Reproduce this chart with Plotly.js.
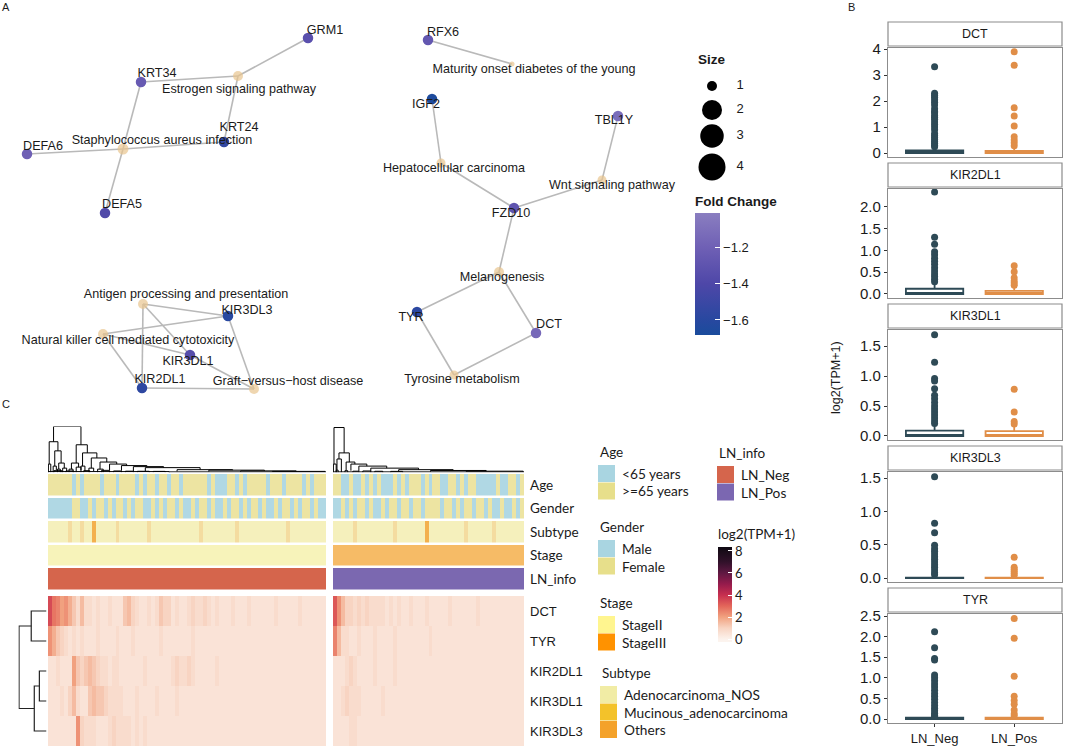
<!DOCTYPE html>
<html><head><meta charset="utf-8">
<script src="https://cdn.plot.ly/plotly-3.0.1.min.js"></script>
<style>html,body{margin:0;padding:0;background:#fff}#chart{width:1065px;height:750px}</style>
</head><body><div id="chart"></div>
<script>
const W=1065,H=750;
const px=v=>v/W, py=v=>1-v/H;

// ================= Panel A : network data =================
const geneNames=['GRM1','KRT34','KRT24','DEFA6','DEFA5','KIR3DL3','KIR3DL1','KIR2DL1','RFX6','IGF2','TBL1Y','FZD10','TYR','DCT'];
const geneX=[308,141,224,27,105,228,190,142,428,432,618,514,417,536];
const geneY=[38,82,142,154,213,316,355,388,40,99,116,208,312,333];
const geneFoldChange=[-1.33,-1.25,-1.55,-1.2,-1.38,-1.6,-1.35,-1.57,-1.27,-1.66,-1.12,-1.3,-1.58,-1.15];
const geneLabelX=[325,157,239,43,122,247,188,160,443,426,614,511,411,549];
const geneLabelY=[31,74,128,147,205,311,362,380,33,105,121,214,318,325];
const pathwayNames=['Estrogen signaling pathway','Staphylococcus aureus infection','Antigen processing and presentation','Natural killer cell mediated cytotoxicity','Graft\u2212versus\u2212host disease','Maturity onset diabetes of the young','Hepatocellular carcinoma','Wnt signaling pathway','Melanogenesis','Tyrosine metabolism'];
const pathwayX=[238,123,143,103,254,512,441,602,499,454];
const pathwayY=[76,149,304,334,389,64,163,180,272,375];
const pathwayGeneCount=[3,4,3,3,3,1,2,2,3,2];
const pathwayLabelX=[239,162,186,128,288,534,454,612,502,462];
const pathwayLabelY=[90,141,295,341,382,70,169,186,278,380];
const edgePathway=[0,0,0,1,1,1,1,2,2,2,3,3,3,4,4,4,5,6,6,7,7,8,8,8,9,9];
const edgeGene=['GRM1','KRT34','KRT24','KRT34','DEFA6','DEFA5','KRT24','KIR3DL3','KIR2DL1','KIR3DL1','KIR3DL3','KIR2DL1','KIR3DL1','KIR3DL3','KIR2DL1','KIR3DL1','RFX6','IGF2','FZD10','TBL1Y','FZD10','FZD10','TYR','DCT','TYR','DCT'];
const sizeLegendValues=[1,2,3,4];
const fcTicks=[-1.6,-1.4,-1.2];

// ================= Panel B : box plot data =================
const bGenes=['DCT','KIR2DL1','KIR3DL1','KIR3DL3','TYR'];
const bGroups=['LN_Neg','LN_Pos'];
const dctOutNeg=[3.32,2.3,2.22,2.15,2.05,1.95,1.85,1.7,1.6,1.55,1.45,1.38,1.3,1.2,1.1,1.0,0.9,0.75,0.68,0.6,0.52,0.45,0.38,0.3,0.24];
const dctOutPos=[3.9,3.38,1.74,1.43,1.04,0.63,0.5,0.4,0.28];
const kir2dl1OutNeg=[2.34,1.3,1.14,0.97,0.9,0.82,0.75,0.68,0.6,0.53,0.46,0.4,0.34,0.28];
const kir2dl1OutPos=[0.65,0.51,0.37,0.3,0.25,0.2];
const kir3dl1OutNeg=[1.69,1.23,0.96,0.92,0.79,0.68,0.62,0.56,0.5,0.45,0.4,0.35,0.3,0.25,0.21];
const kir3dl1OutPos=[0.78,0.4,0.24,0.2];
const kir3dl3OutNeg=[1.52,0.82,0.68,0.49,0.44,0.4,0.36,0.32,0.28,0.24,0.2,0.16,0.12,0.08,0.05];
const kir3dl3OutPos=[0.31,0.16,0.13,0.1,0.07,0.04];
const tyrOutNeg=[2.12,1.73,1.47,1.43,1.07,1.0,0.93,0.85,0.78,0.7,0.62,0.55,0.48,0.4,0.33,0.26,0.2,0.14,0.09,0.06];
const tyrOutPos=[2.44,1.96,1.04,0.55,0.45,0.36,0.22,0.13,0.08];
const boxQ1Neg=[0,0,0,0,0], boxMedNeg=[0.02,0.02,0.01,0,0.005], boxQ3Neg=[0.1,0.12,0.09,0.006,0.03], boxUpNeg=[0.2,0.25,0.18,0.012,0.06];
const boxQ1Pos=[0,0,0,0,0], boxMedPos=[0.02,0.01,0.01,0,0.005], boxQ3Pos=[0.08,0.07,0.08,0.006,0.03], boxUpPos=[0.16,0.17,0.18,0.012,0.06];

// ================= Panel C : heatmap data =================
const hmGenes=['DCT','TYR','KIR2DL1','KIR3DL1','KIR3DL3'];
const annotNames=['Age','Gender','Subtype','Stage','LN_info'];
const nNeg=70, nPos=48;
// expression: one hex char per sample, value = char/4 (log2(TPM+1))
const dctNeg   ='eba8975363323223222564322323544232234334323222322232222223222223222222';
const tyrNeg   ='9754323232223222232223222222322222223222222222222222222222222222222222';
const kir2dl1Neg='2232228545654332332222223222222343343222223222222222222222222222222222';
const kir3dl1Neg='2223246322565543333222322223222232222222222222222222222222222222222222';
const kir3dl3Neg='2222222943332223433332323222222222222222222222222222222222222222222222';
const dctPos   ='d96443434333323232232223222223222222322222222222';
const tyrPos   ='a63322322232222322222222322222222222222222222222';
const kir2dl1Pos='222343222232222322222222222222222222222222222222';
const kir3dl1Pos='223433322222322222222222222222222222222222222222';
const kir3dl3Pos='222233222222222222222222222222222222222222222222';
// annotations: Age 0:<65 1:>=65 ; Gender 0:Male 1:Female ; Subtype 0:NOS 1:Mucinous 2:Others
const ageNeg    ='1111110101111011101111010110110110111111010001101011111011101111010111';
const genderNeg ='0000001100101101011010110010101101001011010010110101101001011010110100';
const subtypeNeg='0000010010020000010000000100000000000010000000010000000000001000000000';
const agePos    ='110010010101000101011101011001101011000001001101';
const genderPos ='001010110100101101101101111011010110110100100101';
const subtypePos='000001000000000100000002000000000100000010000000';
const blockStage=['StageII','StageIII'];
const blockLN=['LN_Neg','LN_Pos'];
// dendrograms: [xLeft, xRight, height, heightLeftChild, heightRightChild]
const dendroNeg=[[0.9,7.8,45,30,27],[-0.2,2.0,30,8,21],[-0.4,0.2,8,0,0],[1.2,2.8,21,6,9],[0.8,1.6,6,0,2],[2.2,3.6,9,3,4],[1.9,2.6,3,0,0],[3.2,4.2,4,0,1],
 [6.6,9.4,27,9,19],[5.4,7.2,9,3,5],[4.8,5.8,3,0,0],[6.6,7.8,5,0,2],[8.2,11.8,19,6,14],[7.8,8.8,6,0,1],[10.4,14.3,14,4,10],[9.8,11.0,4,0,1],
 [12.6,16.8,10,3,8],[12.0,13.4,3,0,0],[15.0,19.3,8,2,6.5],[18.0,24.4,6.5,1.5,5.5],[21.0,28.6,5.5,1.2,4.5],[24.0,37.8,4.5,1,2.5],[32.0,46.0,2.5,0.8,2],
 [40.0,54.0,2,0.6,1.3],[48.0,62.0,1.3,0.5,0.8],[56.0,69.3,0.8,0.3,0.3],[1,3,1.5,0,0],[4,6,1.2,0,0],[8.5,10,1.5,0,0],[13,15,1.8,0,0],[16,18,1.2,0,0],
 [19,21,1,0,0],[22,25,0.9,0,0],[26,29,0.8,0,0],[-0.4,30,0.6,0,0],[30,69.4,0.3,0,0]];
const dendroPos=[[-0.25,2.3,44,8,19],[-0.4,0.3,8,0,0],[1.0,3.6,19,13,10],[0.5,1.6,13,2,0],[0.3,0.8,2,0,0],[2.8,5.0,10,2,8],[4.0,8.0,8,1.5,6],
 [6.0,13.0,6,1.2,4],[9.0,21.0,4,1,2.5],[16.0,29.7,2.5,0.8,1.7],[24.0,38.0,1.7,0.6,1],[33.0,47.3,1,0.4,0.3],[2.5,3.2,1.5,0,0],[4.5,6,1,0,0],
 [7,9,1.2,0,0],[10,12,0.9,0,0],[14,17,0.8,0,0],[-0.4,47.4,0.3,0,0]];
const dendroRows=[[0,1,15,0,0],[2,3,7,0,0],[2.5,4,12,7,0],[0.5,3.25,27,15,12]];

// ================= helpers =================
function decode(str,n,fill){const a=[];for(let i=0;i<n;i++)a.push(i<str.length?str[i]:fill);return a;}
const idx=n=>Array.from({length:n},(_,i)=>i);
const txtFont={family:'Liberation Sans, Arial, sans-serif',color:'#1a1a1a'};
const latoFont='Lato, Liberation Sans, sans-serif';

const traces=[];
// ---- network edges
const ex=[],ey=[];
edgePathway.forEach((p,i)=>{const g=geneNames.indexOf(edgeGene[i]);ex.push(pathwayX[p],geneX[g],null);ey.push(pathwayY[p],geneY[g],null);});
traces.push({type:'scatter',mode:'lines',x:ex,y:ey,xaxis:'x',yaxis:'y',line:{color:'#b9b9b9',width:1.6},hoverinfo:'skip'});
const pathwayPx=[0,5,9,10,11];
traces.push({type:'scatter',mode:'markers',x:pathwayX,y:pathwayY,xaxis:'x',yaxis:'y',
  marker:{color:'#e8c48e',size:pathwayGeneCount.map(c=>pathwayPx[c]),line:{width:0}},hoverinfo:'skip'});
const fcMin=-1.683, fcMax=-1.01;
const fcScale=[[0,'#1a4c9c'],[0.123,'#2848a0'],[0.42,'#4e47a8'],[0.718,'#6f60b5'],[1,'#8a7ec0']];
traces.push({type:'scatter',mode:'markers',x:geneX,y:geneY,xaxis:'x',yaxis:'y',
  marker:{size:10.5,color:geneFoldChange,colorscale:fcScale,cmin:fcMin,cmax:fcMax,line:{width:0},showscale:true,
    colorbar:{x:px(695),xanchor:'left',y:py(193),yanchor:'top',len:142/H,lenmode:'fraction',thickness:25,thicknessmode:'pixels',
      outlinewidth:0,xpad:0,ypad:0,ticks:'inside',ticklen:5,tickcolor:'#ffffff',tickvals:fcTicks,
      tickfont:{size:13,color:'#1a1a1a',family:'Liberation Sans, Arial, sans-serif'},
      title:{text:'<b>Fold Change</b>',side:'top',font:{size:13.5,color:'#1a1a1a',family:'Liberation Sans, Arial, sans-serif'}}}},
  hoverinfo:'skip'});
traces.push({type:'scatter',mode:'text',x:geneLabelX.concat(pathwayLabelX),y:geneLabelY.concat(pathwayLabelY),xaxis:'x',yaxis:'y',
  text:geneNames.concat(pathwayNames),textposition:'middle center',textfont:Object.assign({size:12.6},txtFont),hoverinfo:'skip'});
// size legend
const sizeLegY=[86,110,136,167];
const sizeLegPx=[10,20,23.5,27];
traces.push({type:'scatter',mode:'markers',x:sizeLegendValues.map(()=>712),y:sizeLegY,xaxis:'x',yaxis:'y',
  marker:{color:'#000000',opacity:1,size:sizeLegendValues.map(s=>sizeLegPx[s-1]),line:{width:0}},hoverinfo:'skip'});
traces.push({type:'scatter',mode:'text',x:sizeLegendValues.map(()=>740),y:sizeLegY,xaxis:'x',yaxis:'y',
  text:sizeLegendValues.map(String),textposition:'middle center',textfont:Object.assign({size:13},txtFont),hoverinfo:'skip'});

// ---- Panel B
const outNeg=[dctOutNeg,kir2dl1OutNeg,kir3dl1OutNeg,kir3dl3OutNeg,tyrOutNeg];
const outPos=[dctOutPos,kir2dl1OutPos,kir3dl1OutPos,kir3dl3OutPos,tyrOutPos];
const negCol='#2e4a56', posCol='#e08e48';
bGenes.forEach((g,i)=>{
  const xa='x'+(i+2), ya='y'+(i+2);
  traces.push({type:'box',x:[bGroups[0]],q1:[boxQ1Neg[i]],median:[boxMedNeg[i]],q3:[boxQ3Neg[i]],lowerfence:[boxQ1Neg[i]],upperfence:[boxUpNeg[i]],
    xaxis:xa,yaxis:ya,width:0.72,whiskerwidth:0,fillcolor:'#ffffff',line:{color:negCol,width:1.8},boxpoints:false,hoverinfo:'skip'});
  traces.push({type:'box',x:[bGroups[1]],q1:[boxQ1Pos[i]],median:[boxMedPos[i]],q3:[boxQ3Pos[i]],lowerfence:[boxQ1Pos[i]],upperfence:[boxUpPos[i]],
    xaxis:xa,yaxis:ya,width:0.72,whiskerwidth:0,fillcolor:'#ffffff',line:{color:posCol,width:1.8},boxpoints:false,hoverinfo:'skip'});
  traces.push({type:'scatter',mode:'markers',x:outNeg[i].map(()=>bGroups[0]),y:outNeg[i],xaxis:xa,yaxis:ya,marker:{color:negCol,size:7},hoverinfo:'skip'});
  traces.push({type:'scatter',mode:'markers',x:outPos[i].map(()=>bGroups[1]),y:outPos[i],xaxis:xa,yaxis:ya,marker:{color:posCol,size:7},hoverinfo:'skip'});
});

// ---- Panel C
const zMin=-0.27, zMax=8.36;
const heatStops=[[-0.27,'#fcf4ef'],[0,'#fcf2ec'],[1,'#f8d4c2'],[2,'#f1a17f'],[3,'#e3665a'],[4,'#c72f4f'],[5,'#951b4c'],[6,'#5f1842'],[7,'#31112a'],[8.36,'#0f0a12']];
const heatScale=heatStops.map(s=>[(s[0]-zMin)/(zMax-zMin),s[1]]);
const exprNeg=[dctNeg,tyrNeg,kir2dl1Neg,kir3dl1Neg,kir3dl3Neg].map(s=>decode(s,nNeg,'2').map(c=>parseInt(c,16)/4));
const exprPos=[dctPos,tyrPos,kir2dl1Pos,kir3dl1Pos,kir3dl3Pos].map(s=>decode(s,nPos,'2').map(c=>parseInt(c,16)/4));
traces.push({type:'heatmap',z:exprNeg,x:idx(nNeg),y:idx(5),xaxis:'x7',yaxis:'y8',zmin:zMin,zmax:zMax,colorscale:heatScale,showscale:true,hoverinfo:'skip',
  colorbar:{x:px(718),xanchor:'left',y:py(526),yanchor:'top',len:116/H,lenmode:'fraction',thickness:14,thicknessmode:'pixels',outlinewidth:0,xpad:0,ypad:0,
    ticks:'inside',ticklen:4,tickcolor:'#ffffff',tickvals:[0,2,4,6,8],tickfont:{size:13,family:latoFont,color:'#1a1a1a'},
    title:{text:'log2(TPM+1)',side:'top',font:{size:13.5,family:latoFont,color:'#1a1a1a'}}}});
traces.push({type:'heatmap',z:exprPos,x:idx(nPos),y:idx(5),xaxis:'x8',yaxis:'y8',zmin:zMin,zmax:zMax,colorscale:heatScale,showscale:false,hoverinfo:'skip'});

// annotation rows -> global category codes
const annotCellColors=['#b0d8e4','#ede4a2','#b0d8e4','#ede4a2','#f5f0bc','#f4dca0','#f3b04e','#f7f3ba','#f6bb66','#d5654c','#7b68b0'];
const nCat=annotCellColors.length;
const annotScale=[];annotCellColors.forEach((c,i)=>{annotScale.push([i/nCat,c]);annotScale.push([(i+1)/nCat,c]);});
function annotBlock(age,gender,subtype,b,n){
  return [decode(age,n,'1').map(c=>+c),
          decode(gender,n,'1').map(c=>2+ +c),
          decode(subtype,n,'0').map(c=>4+ +c),
          idx(n).map(()=>7+blockStage.indexOf(blockStage[b])),
          idx(n).map(()=>9+blockLN.indexOf(blockLN[b]))];
}
traces.push({type:'heatmap',z:annotBlock(ageNeg,genderNeg,subtypeNeg,0,nNeg),x:idx(nNeg),y:idx(5),xaxis:'x7',yaxis:'y7',zmin:-0.5,zmax:nCat-0.5,
  colorscale:annotScale,showscale:false,ygap:2.5,hoverinfo:'skip'});
traces.push({type:'heatmap',z:annotBlock(agePos,genderPos,subtypePos,1,nPos),x:idx(nPos),y:idx(5),xaxis:'x8',yaxis:'y7',zmin:-0.5,zmax:nCat-0.5,
  colorscale:annotScale,showscale:false,ygap:2.5,hoverinfo:'skip'});

function dendroTop(links){const x=[],y=[];links.forEach(l=>{x.push(l[0],l[0],l[1],l[1],null);y.push(l[3],l[2],l[2],l[4],null);});return {x,y};}
function dendroSide(links){const x=[],y=[];links.forEach(l=>{y.push(l[0],l[0],l[1],l[1],null);x.push(l[3],l[2],l[2],l[4],null);});return {x,y};}
const dN=dendroTop(dendroNeg), dP=dendroTop(dendroPos), dR=dendroSide(dendroRows);
traces.push({type:'scatter',mode:'lines',x:dN.x,y:dN.y,xaxis:'x9',yaxis:'y9',line:{color:'#000',width:1},hoverinfo:'skip'});
traces.push({type:'scatter',mode:'lines',x:dP.x,y:dP.y,xaxis:'x10',yaxis:'y9',line:{color:'#000',width:1},hoverinfo:'skip'});
traces.push({type:'scatter',mode:'lines',x:dR.x,y:dR.y,xaxis:'x11',yaxis:'y8',line:{color:'#222',width:1.2},hoverinfo:'skip'});

// ================= layout =================
const hidden={visible:false,showgrid:false,zeroline:false,fixedrange:true};
const layout={width:W,height:H,margin:{l:0,r:0,t:0,b:0},paper_bgcolor:'#fff',plot_bgcolor:'rgba(0,0,0,0)',showlegend:false,hovermode:false,
  boxmode:'overlay',font:{family:'Liberation Sans, Arial, sans-serif',color:'#1a1a1a'},
  xaxis:Object.assign({},hidden,{domain:[0,800/W],range:[0,800],anchor:'y'}),
  yaxis:Object.assign({},hidden,{domain:[py(410),1],range:[410,0],anchor:'x'}),
  shapes:[],annotations:[]};

const panelTops=[48,189,330,472,614], panelBots=[157,298,440,582,723];
const yRanges=[[-0.15,4.04],[-0.092,2.41],[-0.067,1.77],[-0.06,1.59],[-0.097,2.55]];
const yTicks=[[0,1,2,3,4],[0,0.5,1,1.5,2],[0,0.5,1,1.5],[0,0.5,1,1.5],[0,0.5,1,1.5,2,2.5]];
const bx0=888,bx1=1062;
bGenes.forEach((g,i)=>{
  const n=i+2, last=i===bGenes.length-1;
  layout['xaxis'+n]={domain:[px(bx0),px(bx1)],anchor:'y'+n,type:'category',categoryorder:'array',categoryarray:bGroups,range:[-0.585,1.6],
    showline:true,mirror:true,linecolor:'#8c8c8c',linewidth:1.2,showgrid:false,zeroline:false,fixedrange:true,
    showticklabels:last,ticks:last?'outside':'',ticklen:3,tickcolor:'#333',tickfont:{size:13,color:'#1a1a1a'}};
  layout['yaxis'+n]={domain:[py(panelBots[i]),py(panelTops[i])],anchor:'x'+n,range:yRanges[i],tickvals:yTicks[i],tickformat:i===0?'d':'.1f',
    showline:true,mirror:true,linecolor:'#8c8c8c',linewidth:1.2,showgrid:false,zeroline:false,fixedrange:true,
    ticks:'outside',ticklen:3,tickcolor:'#333',tickfont:{size:15,color:'#1a1a1a'}};
  layout.shapes.push({type:'rect',xref:'paper',yref:'paper',x0:px(bx0),x1:px(bx1),y0:py(panelTops[i]-2),y1:py(panelTops[i]-26),
    line:{color:'#8c8c8c',width:1.2},fillcolor:'#ffffff'});
  layout.annotations.push({xref:'paper',yref:'paper',x:px((bx0+bx1)/2),y:py(panelTops[i]-14),text:g,showarrow:false,
    font:{size:12.5,color:'#1a1a1a'},xanchor:'center',yanchor:'middle'});
});
layout.annotations.push({xref:'paper',yref:'paper',x:px(845),y:py(378),text:'log2(TPM+1)',textangle:-90,showarrow:false,font:{size:12.5,color:'#1a1a1a'}});

// panel C axes
const negX0=48,negX1=326,posX0=333,posX1=524;
layout.xaxis7=Object.assign({},hidden,{domain:[px(negX0),px(negX1)],range:[-0.5,nNeg-0.5],anchor:'y8'});
layout.xaxis8=Object.assign({},hidden,{domain:[px(posX0),px(posX1)],range:[-0.5,nPos-0.5],anchor:'y8'});
layout.yaxis7={domain:[py(591),py(473)],range:[4.5,-0.5],anchor:'x8',side:'right',tickvals:idx(5),ticktext:annotNames,ticks:'',
  showline:false,showgrid:false,zeroline:false,fixedrange:true,ticklabelstandoff:5,tickfont:{size:13.5,family:latoFont,color:'#1a1a1a'}};
layout.yaxis8={domain:[py(746),py(596)],range:[4.5,-0.5],anchor:'x8',side:'right',tickvals:idx(5),ticktext:hmGenes,ticks:'',
  showline:false,showgrid:false,zeroline:false,fixedrange:true,ticklabelstandoff:5,tickfont:{size:13,color:'#1a1a1a'}};
layout.xaxis9=Object.assign({},hidden,{domain:[px(negX0),px(negX1)],range:[-0.5,nNeg-0.5],anchor:'y9'});
layout.xaxis10=Object.assign({},hidden,{domain:[px(posX0),px(posX1)],range:[-0.5,nPos-0.5],anchor:'y9'});
layout.yaxis9=Object.assign({},hidden,{domain:[py(472.5),py(426.5)],range:[-0.3,45],anchor:'x9'});
layout.xaxis11=Object.assign({},hidden,{domain:[px(18.5),px(46.5)],range:[27.5,0],anchor:'y8'});

// panel C legends
const legendGroups=[
  {title:'Age',labels:['&lt;65 years','&gt;=65 years'],colors:['#a9d5e1','#e7df8b'],x:598,y:452},
  {title:'Gender',labels:['Male','Female'],colors:['#a9d5e1','#e7df8b'],x:598,y:527},
  {title:'Stage',labels:['StageII','StageIII'],colors:['#fff58f','#ff9200'],x:598,y:603},
  {title:'Subtype',labels:['Adenocarcinoma_NOS','Mucinous_adenocarcinoma','Others'],colors:['#f1eca5','#f3c22a','#f4a22a'],x:600,y:673},
  {title:'LN_info',labels:['LN_Neg','LN_Pos'],colors:['#d5654c','#7b67b1'],x:717,y:453}];
legendGroups.forEach(g=>{
  layout.annotations.push({xref:'paper',yref:'paper',x:px(g.x),y:py(g.y),text:g.title,showarrow:false,xanchor:'left',yanchor:'middle',
    font:{size:13.5,family:latoFont,color:'#1a1a1a'}});
  g.labels.forEach((lab,k)=>{
    const top=g.y+13+k*17.5;
    layout.shapes.push({type:'rect',xref:'paper',yref:'paper',x0:px(g.x),x1:px(g.x+17),y0:py(top+17),y1:py(top),line:{width:0},fillcolor:g.colors[k]});
    layout.annotations.push({xref:'paper',yref:'paper',x:px(g.x+22),y:py(top+8.5),text:lab,showarrow:false,xanchor:'left',yanchor:'middle',
      font:{size:13.7,family:latoFont,color:'#1a1a1a'}});
  });
});

// Size legend title, panel letters
layout.annotations.push({xref:'paper',yref:'paper',x:px(696),y:py(60),text:'<b>Size</b>',showarrow:false,xanchor:'left',yanchor:'middle',font:{size:13.5,color:'#1a1a1a'}});
[['A',6,7],['B',851,7],['C',6,404]].forEach(p=>layout.annotations.push({xref:'paper',yref:'paper',x:px(p[1]),y:py(p[2]),text:p[0],showarrow:false,
  xanchor:'center',yanchor:'middle',font:{size:11,color:'#1a1a1a'}}));

Plotly.newPlot('chart',traces,layout,{displayModeBar:false,staticPlot:true});
</script></body></html>
